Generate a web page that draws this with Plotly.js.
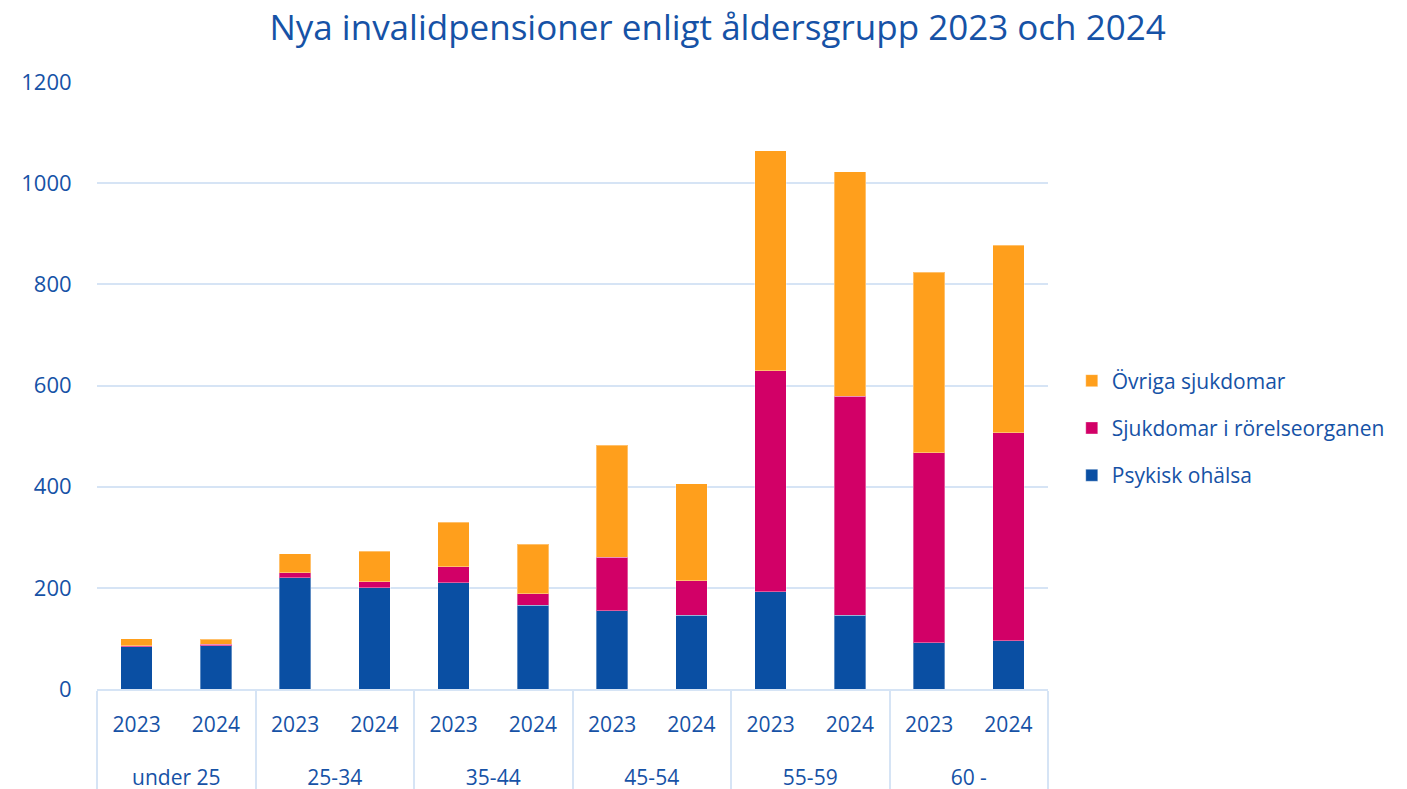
<!DOCTYPE html>
<html>
<head>
<meta charset="utf-8">
<script src="https://cdn.plot.ly/plotly-3.0.1.min.js"></script>
<style>html,body{margin:0;padding:0;background:#fff;}#chart{width:1407px;height:789px;}</style>
</head>
<body>
<div id="chart"></div>
<script>
const groups = ["under 25","under 25","25-34","25-34","35-44","35-44","45-54","45-54","55-59","55-59","60 -","60 -"];
const years = ["2023","2024","2023","2024","2023","2024","2023","2024","2023","2024","2023","2024"];
const psykisk = [84, 86, 220, 200, 210, 166, 155, 146, 192, 146, 91, 95];
const rorelse = [2, 2, 10, 12, 32, 22, 105, 68, 437, 433, 376, 412];
const ovriga = [13, 10, 37, 60, 88, 98, 222, 192, 435, 444, 357, 370];

const textColor = "#1652a6";
const fontFam = "'Open Sans', 'Noto Sans', sans-serif";
// label text drawn at 21px inside a larger base font so the two label rows sit further apart
const lbl = s => "<span style='font-size:21px'>" + s + "</span>";
const yearLabels = years.map(y => lbl(y) + "<br> ");
const groupLabels = groups.map(g => lbl(g));
const x = [groupLabels, yearLabels];
const mk = (name, y, color, g, rank) => ({
  type: "bar", name: name, x: x, y: y, legendgroup: g, legendrank: rank,
  marker: {color: color, line: {color: "rgba(255,255,255,0.35)", width: 1}},
  hoverinfo: "y+name"
});
const data = [
  mk("Psykisk ohälsa", psykisk, "#0a4fa3", "a", 3),
  mk("Sjukdomar i rörelseorganen", rorelse, "#d20067", "b", 2),
  mk("Övriga sjukdomar", ovriga, "#ff9f1c", "c", 1)
];
const layout = {
  width: 1407, height: 789,
  barmode: "stack", bargap: 0.6,
  paper_bgcolor: "#fff", plot_bgcolor: "#fff",
  margin: {l: 97, r: 359, t: 82, b: 100, autoexpand: false},
  font: {family: fontFam, color: textColor, size: 20},
  title: {text: "Nya invalidpensioner enligt åldersgrupp 2023 och 2024", font: {size: 35, color: textColor, family: fontFam}, x: 0.51, xref: "container", xanchor: "center", y: 0.9645, yref: "container", yanchor: "middle"},
  xaxis: {
    type: "multicategory",
    showdividers: true, dividercolor: "#d6e4f5", dividerwidth: 2,
    showline: true, linecolor: "#d6e4f5", linewidth: 2,
    tickfont: {size: 25, color: textColor},
    ticks: "", showgrid: false,
    ticklabelstandoff: 11
  },
  yaxis: {
    range: [0, 1200], dtick: 200,
    gridcolor: "#d6e4f5", gridwidth: 2,
    zeroline: false, showline: false,
    tickfont: {size: 22, color: textColor},
    ticks: "outside", ticklen: 20, tickcolor: "rgba(0,0,0,0)"
  },
  legend: {
    x: 1.025, xanchor: "left", y: 0.43, yanchor: "middle",
    traceorder: "grouped", font: {size: 21, color: textColor},
    tracegroupgap: 17
  },
  showlegend: true
};
Plotly.newPlot("chart", data, layout, {displayModeBar: false});
</script>
</body>
</html>
